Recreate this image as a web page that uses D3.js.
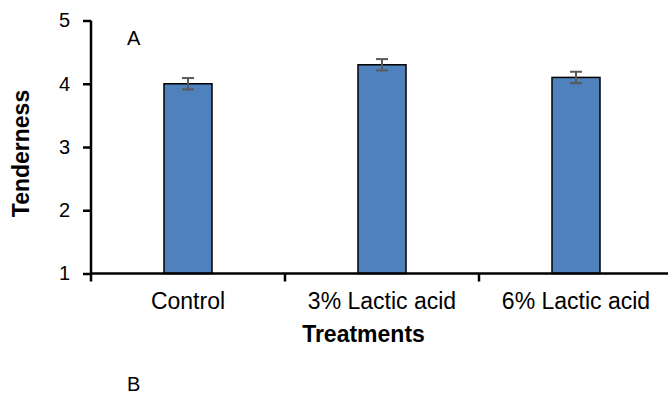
<!DOCTYPE html>
<html>
<head>
<meta charset="utf-8">
<script src="https://cdn.jsdelivr.net/npm/d3@7"></script>
<style>
  html, body { margin: 0; padding: 0; background: #fff; }
  svg { display: block; font-family: "Liberation Sans", Arial, sans-serif; }
</style>
</head>
<body>
<svg id="chart" width="668" height="395"></svg>
<script>
// Tenderness scores by treatment, with standard error
const categories = ["Control", "3% Lactic acid", "6% Lactic acid"];
const tenderness = [4.0, 4.3, 4.1];
const errors = [0.09, 0.09, 0.09];
const yTicks = [1, 2, 3, 4, 5];

const svg = d3.select("#chart");

const x = d3.scaleBand().domain(categories).range([91, 673]).paddingInner(0).paddingOuter(0);
const y = d3.scaleLinear().domain([1, 5]).range([273.5, 20.5]);
const barW = 48;

// Bars
svg.append("g").selectAll("rect").data(categories).join("rect")
  .attr("x", d => x(d) + x.bandwidth() / 2 - barW / 2)
  .attr("y", (d, i) => y(tenderness[i]))
  .attr("width", barW)
  .attr("height", (d, i) => y(1) - y(tenderness[i]))
  .attr("fill", "#4f81bd")
  .attr("stroke", "#000")
  .attr("stroke-width", 1.5);

// Error bars
const eb = svg.append("g").attr("stroke", "#595959").attr("stroke-width", 2);
categories.forEach((c, i) => {
  const cx = x(c) + x.bandwidth() / 2;
  const lo = y(tenderness[i] - errors[i]), hi = y(tenderness[i] + errors[i]);
  eb.append("line").attr("x1", cx).attr("x2", cx).attr("y1", lo).attr("y2", hi);
  eb.append("line").attr("x1", cx - 6).attr("x2", cx + 6).attr("y1", lo).attr("y2", lo);
  eb.append("line").attr("x1", cx - 6).attr("x2", cx + 6).attr("y1", hi).attr("y2", hi);
});

// Y axis
const yAxis = svg.append("g").attr("transform", "translate(91,0)")
  .call(d3.axisLeft(y).tickValues(yTicks).tickFormat(d3.format("d")).tickSize(8).tickPadding(13));
yAxis.select(".domain").attr("d", `M0,${y(5)}V${y(1)}`).attr("stroke", "#000").attr("stroke-width", 2.5);
yAxis.selectAll(".tick line").attr("stroke", "#000").attr("stroke-width", 2.5);
yAxis.selectAll("text").attr("font-size", 20).attr("fill", "#000")
  .attr("font-family", "Liberation Sans, Arial, sans-serif");

// X axis: baseline with ticks on the category boundaries
const xAxis = svg.append("g");
xAxis.append("line").attr("x1", 91).attr("x2", 668).attr("y1", y(1)).attr("y2", y(1))
  .attr("stroke", "#000").attr("stroke-width", 2.5);
xAxis.selectAll("line.tk").data(categories).join("line").attr("class", "tk")
  .attr("x1", d => x(d)).attr("x2", d => x(d)).attr("y1", y(1)).attr("y2", y(1) + 8)
  .attr("stroke", "#000").attr("stroke-width", 2.5);
xAxis.selectAll("text").data(categories).join("text")
  .attr("x", d => x(d) + x.bandwidth() / 2)
  .attr("y", 309)
  .attr("text-anchor", "middle")
  .attr("font-size", 23)
  .attr("fill", "#000")
  .text(d => d);

// Axis titles
svg.append("text").attr("x", 363.5).attr("y", 342).attr("text-anchor", "middle")
  .attr("font-size", 23).attr("font-weight", "bold").text("Treatments");
svg.append("text").attr("transform", "translate(29,153.5) rotate(-90)").attr("text-anchor", "middle")
  .attr("font-size", 23).attr("font-weight", "bold").text("Tenderness");

// Panel letters
svg.append("text").attr("x", 127).attr("y", 45).attr("font-size", 20).text("A");
svg.append("text").attr("x", 127).attr("y", 391).attr("font-size", 20).text("B");
</script>
</body>
</html>
